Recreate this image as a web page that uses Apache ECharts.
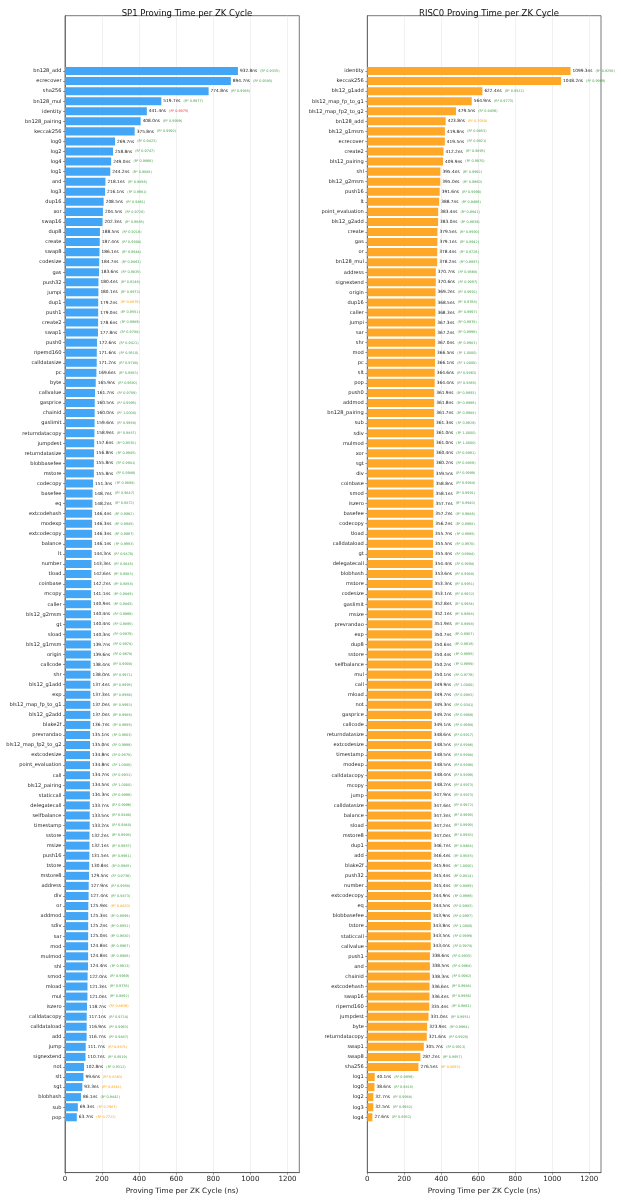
<!DOCTYPE html>
<html>
<head>
<meta charset="utf-8">
<script src="https://cdn.jsdelivr.net/npm/echarts@6/dist/echarts.min.js"></script>
<style>
html,body{margin:0;padding:0;background:#fff;}
#chart{width:621px;height:1200px;}
</style>
</head>
<body>
<div id="chart"></div>
<script>
const sp1Ops = ['bn128_add','ecrecover','sha256','bn128_mul','identity','bn128_pairing','keccak256','log0','log2','log4','log1','and','log3','dup16','xor','swap16','dup8','create','swap8','codesize','gas','push32','jumpi','dup1','push1','create2','swap1','push0','ripemd160','calldatasize','pc','byte','callvalue','gasprice','chainid','gaslimit','returndatacopy','jumpdest','returndatasize','blobbasefee','mstore','codecopy','basefee','eq','extcodehash','modexp','extcodecopy','balance','lt','number','tload','coinbase','mcopy','caller','bls12_g2msm','gt','sload','bls12_g1msm','origin','callcode','shr','bls12_g1add','exp','bls12_map_fp_to_g1','bls12_g2add','blake2f','prevrandao','bls12_map_fp2_to_g2','extcodesize','point_evaluation','call','bls12_pairing','staticcall','delegatecall','selfbalance','timestamp','sstore','msize','push16','tstore','mstore8','address','div','or','addmod','sdiv','sar','mod','mulmod','shl','smod','mload','mul','iszero','calldatacopy','calldataload','add','jump','signextend','not','slt','sgt','blobhash','sub','pop'];
const sp1Times = [932.8,894.7,774.8,519.7,441.4,408.0,375.8,269.7,258.8,249.0,244.2,218.1,216.1,208.5,204.5,202.3,188.5,187.4,186.1,184.7,183.6,180.4,180.1,179.2,179.0,178.6,177.8,172.6,171.6,171.2,169.6,165.9,161.7,160.5,160.0,159.6,158.9,157.6,156.8,155.8,155.8,151.3,148.7,148.2,146.4,146.3,146.3,146.1,144.3,143.3,142.6,142.2,141.1,140.9,140.4,140.4,140.3,139.7,139.6,138.4,138.0,137.4,137.3,137.0,137.0,136.7,135.1,135.0,134.8,134.8,134.7,134.5,134.3,133.7,133.5,133.2,132.2,132.1,131.5,130.8,129.5,127.9,127.4,125.9,125.3,125.2,125.0,124.8,124.8,124.4,122.0,121.3,121.0,118.7,117.1,116.9,116.7,111.7,110.7,102.8,99.6,93.3,86.1,69.3,63.7];
const sp1R2 = [0.9335,0.9385,0.9985,0.9977,0.6975,0.9999,0.9992,0.9423,0.9747,0.9866,0.9888,0.9856,0.9981,0.9461,0.9720,0.9685,0.9216,0.9908,0.9944,0.9863,0.9835,0.9246,0.9973,0.8679,0.9551,0.9989,0.9784,0.9421,0.9510,0.9780,0.9563,0.9692,0.9709,0.9995,1.0000,0.9960,0.9857,0.9530,0.9945,0.9941,0.9946,0.9898,0.9847,0.9872,0.9962,0.9945,0.9967,0.9993,0.9470,0.9845,0.9983,0.9858,0.9849,0.9845,0.9966,0.9895,0.9979,0.9974,0.9678,0.9990,0.9971,0.9995,0.9968,0.9993,0.9986,0.9995,0.9903,0.9999,0.9578,1.0000,0.9931,1.0000,0.9996,0.9996,0.9480,0.9840,0.9998,0.9957,0.9961,0.9985,0.9736,0.9958,0.9473,0.8430,0.9999,0.9951,0.9830,0.9967,0.9906,0.9913,0.9969,0.9755,0.9892,0.8636,0.9714,0.9963,0.9887,0.8871,0.9519,0.9312,0.8363,0.8341,0.9442,0.7987,0.7722];

const risc0Ops = ['identity','keccak256','bls12_g1add','bls12_map_fp_to_g1','bls12_map_fp2_to_g2','bn128_add','bls12_g1msm','ecrecover','create2','bls12_pairing','shl','bls12_g2msm','push16','lt','point_evaluation','bls12_g2add','create','gas','or','bn128_mul','address','signextend','origin','dup16','caller','jumpi','sar','shr','mod','pc','slt','pop','push0','addmod','bn128_pairing','sub','sdiv','mulmod','xor','sgt','div','coinbase','smod','iszero','basefee','codecopy','tload','calldataload','gt','delegatecall','blobhash','mstore','codesize','gaslimit','msize','prevrandao','exp','dup8','sstore','selfbalance','mul','call','mload','not','gasprice','callcode','returndatasize','extcodesize','timestamp','modexp','calldatacopy','mcopy','jump','calldatasize','balance','sload','mstore8','dup1','add','blake2f','push32','number','extcodecopy','eq','blobbasefee','tstore','staticcall','callvalue','push1','and','chainid','extcodehash','swap16','ripemd160','jumpdest','byte','returndatacopy','swap1','swap8','sha256','log1','log0','log2','log3','log4'];
const risc0Times = [1099.3,1048.2,622.4,564.9,479.5,423.8,419.8,419.5,412.2,409.9,395.4,395.0,391.6,388.7,383.4,383.0,379.5,379.1,378.4,378.2,370.7,370.6,369.2,368.5,368.3,367.3,367.2,367.0,366.5,366.1,364.6,364.4,361.9,361.8,361.7,361.3,361.0,361.0,360.4,360.2,359.5,358.8,358.1,357.7,357.2,356.2,355.7,355.5,355.4,354.4,353.6,353.3,353.1,352.8,352.1,351.9,350.7,350.6,350.4,350.2,350.1,349.9,349.7,349.3,349.2,349.1,348.6,348.5,348.5,348.5,348.4,348.2,347.9,347.6,347.3,347.2,347.0,346.7,346.4,345.9,345.4,345.4,344.9,344.5,343.9,343.8,343.5,343.4,338.6,338.5,338.3,336.6,336.4,335.4,331.0,323.9,321.6,305.7,287.2,276.5,40.1,38.6,32.7,32.5,27.6];
const risc0R2 = [0.9250,0.9969,0.9522,0.9773,0.9456,0.7050,0.9853,0.9921,0.9895,0.9970,0.9992,0.9960,0.9990,0.9466,0.9941,0.9636,0.9990,0.9942,0.9726,0.9997,0.9868,0.9997,0.9991,0.9768,0.9997,0.9978,0.9996,0.9983,1.0000,1.0000,0.9963,0.9865,0.9993,0.9996,0.9988,0.9926,1.0000,1.0000,0.9991,0.9856,0.9999,0.9984,0.9991,0.9940,0.9986,0.9998,0.9995,0.9970,0.9984,0.9998,0.9980,0.9951,0.9932,0.9954,0.9898,0.9898,0.9907,0.9616,0.9995,0.9999,0.9776,1.0000,0.9983,0.9341,0.9986,0.9998,0.9917,0.9986,0.9988,0.9998,0.9999,0.9973,0.9973,0.9972,0.9999,0.9999,0.9983,0.9464,0.9585,1.0000,0.9814,0.9899,0.9996,0.9983,0.9997,1.0000,0.9999,0.9978,0.9935,0.9964,0.9982,0.9988,0.9956,0.9861,0.9951,0.9964,0.9920,0.9913,0.9957,0.8053,0.9956,0.9815,0.9988,0.9982,0.9932];

const panelTitles = ['SP1 Proving Time per ZK Cycle', 'RISC0 Proving Time per ZK Cycle'];
const xAxisTitle = 'Proving Time per ZK Cycle (ns)';
const xTickValues = [0, 200, 400, 600, 800, 1000, 1200];

const FONT = 'DejaVu Sans';
const X_MAX = 1264;

function r2Style(r) {
  if (r >= 0.9) return 'g';
  if (r >= 0.7) return 'o';
  return 'r';
}

function makeLabel(times, r2s) {
  return function (p) {
    const i = p.dataIndex;
    const k = r2Style(r2s[i]);
    return '{v|' + times[i].toFixed(1) + 'ns}{' + k + '|(R\u00b2 ' + r2s[i].toFixed(4) + ')}';
  };
}

const rich = {
  v: { fontFamily: FONT, fontSize: 4.3, color: '#222' },
  g: { fontFamily: FONT, fontSize: 3.4, color: '#43a047', padding: [0, 0, 0, 3] },
  o: { fontFamily: FONT, fontSize: 3.4, color: '#ffa000', padding: [0, 0, 0, 3] },
  r: { fontFamily: FONT, fontSize: 3.4, color: '#e53935', padding: [0, 0, 0, 3] }
};

function xAxisDef(gi) {
  return {
    gridIndex: gi, type: 'value', min: 0, max: X_MAX, interval: 200,
    name: xAxisTitle, nameLocation: 'middle', nameGap: 14,
    nameTextStyle: { fontFamily: FONT, fontSize: 7.3, color: '#222' },
    axisLine: { show: true, lineStyle: { color: '#555', width: 0.8 } },
    axisTick: { show: true, length: 2, lineStyle: { color: '#555', width: 0.6 }, customValues: xTickValues },
    axisLabel: { fontFamily: FONT, fontSize: 7.1, color: '#222', margin: 3.5, customValues: xTickValues,
      formatter: v => (v % 200 === 0 ? String(v) : '') },
    splitLine: { show: true, lineStyle: { color: '#e8e8e8', width: 0.6 } }
  };
}

function yAxisDef(gi, ops) {
  return {
    gridIndex: gi, type: 'category', data: ops, inverse: true, min: -5, max: 109,
    axisLine: { show: true, lineStyle: { color: '#555', width: 0.8 } },
    axisTick: { show: true, length: 2, alignWithLabel: true, lineStyle: { color: '#555', width: 0.6 },
      interval: (i, label) => label !== '' && label != null },
    axisLabel: { fontFamily: FONT, fontSize: 5.1, color: '#222', margin: 3.5,
      interval: (i, label) => label !== '' && label != null },
    splitLine: { show: false }
  };
}

const chart = echarts.init(document.getElementById('chart'), null, { renderer: 'canvas' });
chart.setOption({
  backgroundColor: '#fff',
  animation: false,
  title: [
    { text: panelTitles[0], left: 182, top: 4, textAlign: 'center',
      textStyle: { fontFamily: FONT, fontSize: 8.5, fontWeight: 'normal', color: '#111' } },
    { text: panelTitles[1], left: 484, top: 4, textAlign: 'center',
      textStyle: { fontFamily: FONT, fontSize: 8.5, fontWeight: 'normal', color: '#111' } }
  ],
  grid: [
    { left: 65, top: 15.7, width: 234.3, height: 1157, show: true, borderColor: '#555', borderWidth: 0.8, containLabel: false },
    { left: 367.3, top: 15.7, width: 233.7, height: 1157, show: true, borderColor: '#555', borderWidth: 0.8, containLabel: false }
  ],
  xAxis: [xAxisDef(0), xAxisDef(1)],
  yAxis: [yAxisDef(0, sp1Ops), yAxisDef(1, risc0Ops)],
  series: [
    { type: 'bar', xAxisIndex: 0, yAxisIndex: 0, data: sp1Times, barWidth: '80%',
      itemStyle: { color: '#42a5f5' },
      label: { show: true, position: 'right', distance: 2, formatter: makeLabel(sp1Times, sp1R2), rich: rich } },
    { type: 'bar', xAxisIndex: 1, yAxisIndex: 1, data: risc0Times, barWidth: '80%',
      itemStyle: { color: '#ffa726' },
      label: { show: true, position: 'right', distance: 2, formatter: makeLabel(risc0Times, risc0R2), rich: rich } }
  ]
});
</script>
</body>
</html>
